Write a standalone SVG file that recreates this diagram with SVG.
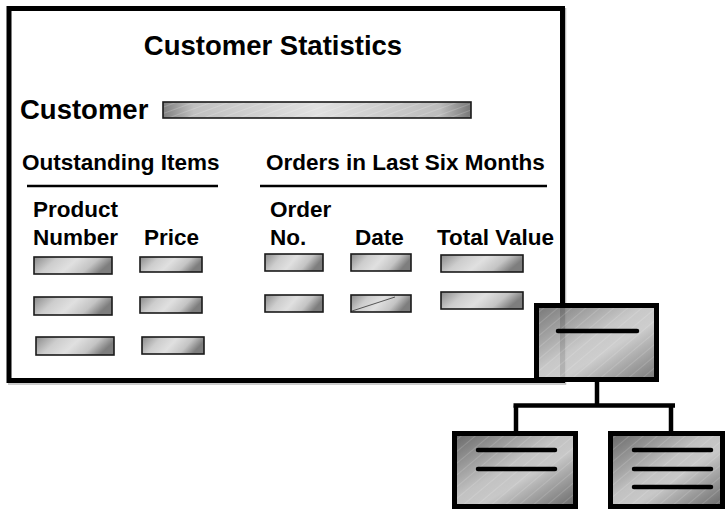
<svg xmlns="http://www.w3.org/2000/svg" width="725" height="513" viewBox="0 0 725 513">
  <style>
    .lbl { font-family: "Liberation Sans", Arial, sans-serif; font-weight: bold; fill: #000; }
    .title { font-size: 27.5px; }
    .big { font-size: 27.5px; }
    .hdr { font-size: 22.5px; }
    .rule { stroke: #000; stroke-width: 2.5; }
    .field { fill: url(#fieldGrad); stroke: #1a1a1a; stroke-width: 1.6; }
    .fieldSheen { fill: url(#streaks); stroke: none; }
    .node { fill: url(#nodeGrad); stroke: #000; stroke-width: 5; }
    .nodeSheen { fill: url(#nodeStreaks); stroke: none; }
    .bar { stroke: #000; stroke-width: 4.5; stroke-linecap: round; }
    .link { stroke: #000; stroke-width: 4.5; fill: none; }
  </style>
  <defs>
    <linearGradient id="fieldGrad" x1="0" y1="0" x2="1" y2="0.25">
      <stop offset="0" stop-color="#8a8a8a"/>
      <stop offset="0.3" stop-color="#cdcdcd"/>
      <stop offset="0.55" stop-color="#e0e0e0"/>
      <stop offset="0.8" stop-color="#c4c4c4"/>
      <stop offset="1" stop-color="#7e7e7e"/>
    </linearGradient>
    <linearGradient id="barGrad" x1="0" y1="0" x2="1" y2="0">
      <stop offset="0" stop-color="#808080"/>
      <stop offset="0.1" stop-color="#c0c0c0"/>
      <stop offset="0.5" stop-color="#e0e0e0"/>
      <stop offset="0.9" stop-color="#bcbcbc"/>
      <stop offset="1" stop-color="#777"/>
    </linearGradient>
    <linearGradient id="nodeGrad" x1="0" y1="0" x2="1" y2="1">
      <stop offset="0" stop-color="#666"/>
      <stop offset="0.45" stop-color="#c2c2c2"/>
      <stop offset="0.6" stop-color="#c8c8c8"/>
      <stop offset="1" stop-color="#686868"/>
    </linearGradient>
    <pattern id="streaks" width="6" height="6" patternUnits="userSpaceOnUse" patternTransform="rotate(-20)">
      <rect width="6" height="1" fill="#fff" opacity="0.18"/>
    </pattern>
    <pattern id="nodeStreaks" width="9" height="9" patternUnits="userSpaceOnUse" patternTransform="rotate(-40)">
      <rect width="9" height="1" fill="#fff" opacity="0.15"/>
    </pattern>
  </defs>

  <!-- form outline with soft shadow edge -->
  <g id="form-frame">
    <path d="M565.5 8 V384 H8" fill="none" stroke="#bbb" stroke-width="1.5"/>
    <rect x="9" y="8.5" width="553.5" height="372" fill="#fff" stroke="#000" stroke-width="5"/>
  </g>

  <g id="form-title">
    <text class="lbl title" x="273" y="55" text-anchor="middle">Customer Statistics</text>
  </g>

  <g id="customer-field">
    <text class="lbl big" x="20" y="119">Customer</text>
    <rect x="163" y="102" width="308" height="16" fill="url(#barGrad)" stroke="#1a1a1a" stroke-width="1.6"/>
    <rect class="fieldSheen" x="164" y="103" width="306" height="14"/>
  </g>

  <g id="outstanding-items">
    <text class="lbl hdr" x="22" y="170">Outstanding Items</text>
    <line class="rule" x1="27" y1="186" x2="218" y2="186"/>
    <text class="lbl hdr" x="33" y="217">Product</text>
    <text class="lbl hdr" x="33" y="245">Number</text>
    <text class="lbl hdr" x="144" y="245">Price</text>
    <rect class="field" x="34" y="257" width="78" height="17"/>
    <rect class="field" x="140" y="257" width="62" height="15"/>
    <rect class="field" x="34" y="297" width="78" height="18"/>
    <rect class="field" x="140" y="297" width="62" height="16"/>
    <rect class="field" x="36" y="337" width="78" height="18"/>
    <rect class="field" x="142" y="337" width="62" height="17"/>
  </g>

  <g id="recent-orders">
    <text class="lbl hdr" x="266" y="170">Orders in Last Six Months</text>
    <line class="rule" x1="260" y1="186" x2="547" y2="186"/>
    <text class="lbl hdr" x="270" y="217">Order</text>
    <text class="lbl hdr" x="270" y="245">No.</text>
    <text class="lbl hdr" x="355" y="245">Date</text>
    <text class="lbl hdr" x="437" y="245">Total Value</text>
    <rect class="field" x="265" y="254" width="58" height="17"/>
    <rect class="field" x="351" y="254" width="60" height="17"/>
    <rect class="field" x="441" y="255" width="82" height="17"/>
    <rect class="field" x="265" y="295" width="58" height="17"/>
    <rect class="field" x="351" y="295" width="60" height="17"/>
    <line x1="352" y1="311" x2="395" y2="297" stroke="#333" stroke-width="0.8"/>
    <rect class="field" x="441" y="292" width="82" height="17"/>
  </g>

  <!-- hierarchy connectors -->
  <g id="connectors">
    <line class="link" x1="597" y1="382" x2="597" y2="405.5"/>
    <line class="link" x1="513.5" y1="405.5" x2="675" y2="405.5"/>
    <line class="link" x1="516" y1="405.5" x2="516" y2="432"/>
    <line class="link" x1="671" y1="405.5" x2="671" y2="432"/>
  </g>

  <g id="node-root">
    <rect class="node" x="536.5" y="305.5" width="120" height="74" fill-opacity="0.9"/>
    <rect class="nodeSheen" x="539" y="308" width="115" height="69"/>
    <line class="bar" x1="558" y1="331" x2="637" y2="331"/>
  </g>

  <g id="node-left">
    <rect class="node" x="454.5" y="433.5" width="121" height="73"/>
    <rect class="nodeSheen" x="457" y="436" width="116" height="68"/>
    <line class="bar" x1="478" y1="450" x2="555" y2="450"/>
    <line class="bar" x1="478" y1="469" x2="555" y2="469"/>
  </g>

  <g id="node-right">
    <rect class="node" x="610.5" y="433.5" width="112" height="73"/>
    <rect class="nodeSheen" x="613" y="436" width="107" height="68"/>
    <line class="bar" x1="634" y1="450" x2="711" y2="450"/>
    <line class="bar" x1="634" y1="469" x2="711" y2="469"/>
    <line class="bar" x1="634" y1="487" x2="711" y2="487"/>
  </g>
</svg>
